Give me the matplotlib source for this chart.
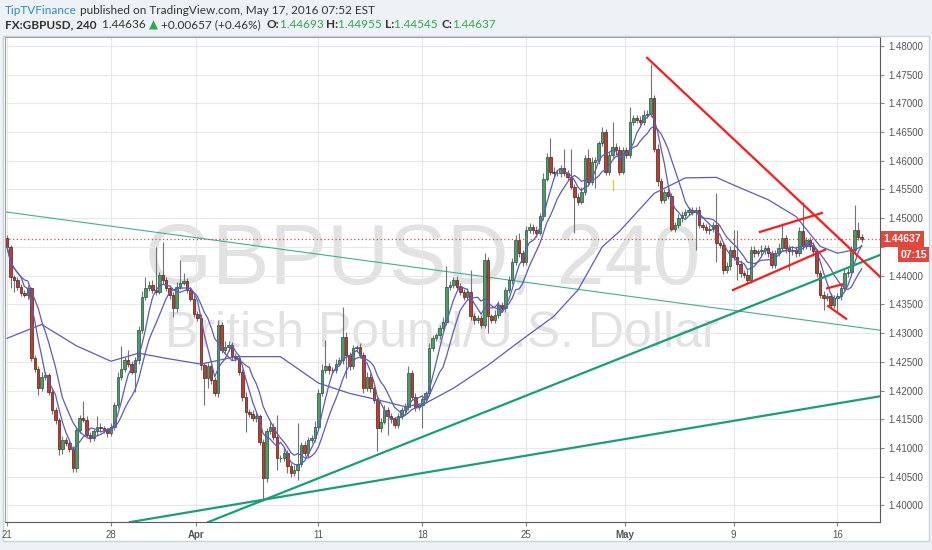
import numpy as np
import pandas as pd
import matplotlib
matplotlib.use("Agg")
import matplotlib.pyplot as plt
from matplotlib.patches import Rectangle
from matplotlib.transforms import blended_transform_factory

# GBPUSD 240 bars (one row = one trading day, 6 bars)
first_open = 1.4465
closes = [
    1.4450, 1.4398, 1.4392, 1.4381, 1.4369, 1.4366,
    1.4378, 1.4256, 1.4238, 1.4204, 1.4224, 1.4227,
    1.4198, 1.4166, 1.4149, 1.4099, 1.4114, 1.4108,
    1.4099, 1.4065, 1.4131, 1.4152, 1.4149, 1.4123,
    1.4117, 1.4129, 1.4137, 1.4134, 1.4131, 1.4126,
    1.4137, 1.4175, 1.4224, 1.4238, 1.4253, 1.4247,
    1.4233, 1.4253, 1.4305, 1.4363, 1.4378, 1.4384,
    1.4375, 1.4372, 1.4401, 1.4392, 1.4378, 1.4366,
    1.4343, 1.4381, 1.4387, 1.4390, 1.4375, 1.4360,
    1.4334, 1.4326, 1.4244, 1.4221, 1.4242, 1.4218,
    1.4195, 1.4314, 1.4271, 1.4276, 1.4279, 1.4260,
    1.4256, 1.4233, 1.4189, 1.4163, 1.4160, 1.4152,
    1.4155, 1.4111, 1.4047, 1.4129, 1.4137, 1.4120,
    1.4082, 1.4082, 1.4091, 1.4068, 1.4056, 1.4062,
    1.4073, 1.4105, 1.4091, 1.4114, 1.4117, 1.4137,
    1.4195, 1.4236, 1.4242, 1.4236, 1.4236, 1.4247,
    1.4253, 1.4294, 1.4262, 1.4242, 1.4274, 1.4276,
    1.4262, 1.4204, 1.4224, 1.4204, 1.4184, 1.4134,
    1.4146, 1.4166, 1.4155, 1.4150, 1.4140, 1.4155,
    1.4166, 1.4172, 1.4230, 1.4189, 1.4172, 1.4175,
    1.4186, 1.4195, 1.4274, 1.4291, 1.4296, 1.4308,
    1.4320, 1.4381, 1.4384, 1.4392, 1.4381, 1.4372,
    1.4363, 1.4372, 1.4329, 1.4323, 1.4326, 1.4314,
    1.4427, 1.4329, 1.4323, 1.4332, 1.4349, 1.4343,
    1.4375, 1.4392, 1.4424, 1.4462, 1.4439, 1.4424,
    1.4479, 1.4485, 1.4479, 1.4475, 1.4503, 1.4569,
    1.4607, 1.4581, 1.4578, 1.4578, 1.4587, 1.4578,
    1.4572, 1.4555, 1.4537, 1.4529, 1.4546, 1.4604,
    1.4563, 1.4598, 1.4601, 1.4630, 1.4650, 1.4581,
    1.4610, 1.4624, 1.4618, 1.4581, 1.4618, 1.4610,
    1.4668, 1.4674, 1.4671, 1.4668, 1.4680, 1.4682,
    1.4709, 1.4621, 1.4564, 1.4532, 1.4546, 1.4538,
    1.4482, 1.4488, 1.4500, 1.4506, 1.4511, 1.4514,
    1.4511, 1.4514, 1.4488, 1.4485, 1.4479, 1.4482,
    1.4488, 1.4456, 1.4454, 1.4410, 1.4416, 1.4445,
    1.4433, 1.4421, 1.4404, 1.4401, 1.4393, 1.4445,
    1.4439, 1.4442, 1.4445, 1.4448, 1.4439, 1.4419,
    1.4439, 1.4448, 1.4465, 1.4448, 1.4442, 1.4445,
    1.4439, 1.4477, 1.4451, 1.4462, 1.4451, 1.4442,
    1.4404, 1.4366, 1.4361, 1.4364, 1.4349, 1.4361,
    1.4364, 1.4378, 1.4404, 1.4407, 1.4445, 1.4479,
    1.4468, 1.44637,
]
# wick lengths above / below the body, in pips
up_pips = [
    6, 4, 3, 5, 4, 6,   5, 3, 6, 4, 8, 5,   4, 6, 5, 4, 7, 5,
    5, 4, 6, 5, 29, 6,  5, 4, 18, 6, 5, 4,  6, 5, 8, 40, 6, 18,
    5, 6, 8, 10, 20, 6, 8, 75, 6, 58, 5, 6, 5, 8, 40, 14, 6, 5,
    6, 5, 8, 4, 6, 5,   5, 8, 6, 10, 7, 5,  6, 5, 4, 8, 5, 6,
    6, 5, 4, 6, 8, 7,   38, 6, 10, 5, 6, 8, 70, 6, 8, 5, 6, 10,
    8, 10, 46, 6, 5, 8, 6, 52, 8, 5, 6, 4,  6, 5, 8, 6, 4, 5,
    6, 8, 5, 6, 4, 6,   5, 6, 12, 5, 6, 4,  6, 5, 8, 6, 5, 6,
    8, 35, 6, 5, 8, 6,  5, 6, 38, 6, 5, 6,  13, 6, 5, 8, 6, 5,
    6, 8, 6, 8, 12, 6,  8, 6, 5, 8, 6, 10,  6, 32, 8, 6, 5, 34,
    6, 48, 5, 6, 8, 6,  16, 8, 6, 5, 8, 6,  6, 44, 6, 8, 6, 5,
    26, 6, 5, 6, 8, 6,  60, 5, 8, 6, 5, 6,  6, 5, 8, 6, 5, 6,
    5, 6, 8, 6, 5, 6,   6, 55, 6, 5, 8, 6,  34, 46, 6, 5, 8, 6,
    6, 5, 8, 6, 5, 6,   6, 8, 26, 6, 5, 6,  6, 8, 52, 6, 5, 6,
    5, 6, 8, 6, 5, 6,   6, 5, 8, 6, 6, 44,  15, 5,
]
down_pips = [
    4, 20, 20, 6, 5, 4, 6, 5, 6, 11, 5, 6,  5, 6, 8, 11, 10, 5,
    6, 6, 6, 5, 4, 6,   6, 5, 6, 4, 5, 6,   5, 6, 5, 6, 5, 6,
    5, 35, 6, 5, 6, 5,  6, 5, 4, 6, 5, 6,   15, 6, 5, 4, 6, 5,
    6, 5, 8, 46, 17, 6, 5, 6, 5, 6, 8, 6,   5, 6, 8, 35, 6, 5,
    6, 5, 40, 6, 5, 6,  20, 6, 5, 12, 6, 5, 18, 6, 5, 6, 5, 6,
    6, 5, 6, 8, 5, 6,   5, 6, 40, 6, 5, 6,  6, 8, 5, 6, 5, 40,
    6, 5, 32, 6, 5, 6,  5, 6, 6, 5, 8, 6,   41, 6, 5, 6, 5, 6,
    5, 6, 6, 5, 6, 5,   6, 5, 6, 8, 5, 6,   6, 29, 6, 5, 6, 5,
    6, 5, 6, 5, 6, 8,   6, 5, 6, 8, 5, 6,   5, 6, 8, 5, 6, 5,
    6, 5, 63, 6, 5, 6,  6, 5, 45, 6, 5, 6,  6, 5, 8, 6, 5, 6,
    6, 5, 6, 5, 6, 5,   6, 5, 8, 6, 6, 5,   5, 6, 5, 6, 5, 6,
    6, 66, 5, 6, 5, 6,  6, 33, 6, 8, 5, 6,  6, 28, 6, 5, 6, 5,
    6, 5, 6, 8, 6, 5,   6, 5, 6, 8, 32, 6,  6, 5, 6, 5, 6, 8,
    6, 5, 21, 6, 5, 6,  24, 6, 5, 6, 5, 6,  6, 5,
]

# slow moving average at a few bars
slow_ma_bars = [0, 10, 20, 30, 38, 46, 56, 66, 79, 90, 99, 107, 115, 121, 129,
                139, 148, 158, 165, 172, 177, 187, 196, 205, 211, 220, 228,
                235, 240, 245, 247]
slow_ma_vals = [1.4291, 1.4315, 1.4278, 1.4251, 1.4265, 1.4256, 1.4246, 1.4259,
                1.4259, 1.4213, 1.4195, 1.4184, 1.4172, 1.4178, 1.4204, 1.4244,
                1.4285, 1.4329, 1.4375, 1.4450, 1.4477, 1.4543, 1.4570, 1.4571,
                1.4555, 1.4532, 1.4503, 1.4451, 1.4439, 1.4445, 1.4451]

# hand-drawn trend lines: (bar, price) end points
thin_line = [(-0.6, 1.4511), (252.3, 1.4305)]
green_lines = [[(58.1, 1.3971), (252.3, 1.4436)],
               [(35.5, 1.3971), (252.3, 1.4190)]]
red_lines = [[(185.0, 1.4779), (252.3, 1.4398)],
             [(217.6, 1.4476), (235.5, 1.4509)],
             [(209.8, 1.4375), (236.4, 1.4445)],
             [(237.0, 1.4378), (241.6, 1.4385)],
             [(237.3, 1.4347), (242.5, 1.4325)]]
marker_bar, marker_lo, marker_hi = 175, 1.4549, 1.4566

tick_bars = [0, 30, 54.6, 90, 120, 150, 178.6, 210, 240]
tick_labels = ["21", "28", "Apr", "11", "18", "25", "May", "9", "16"]
price_ticks = [1.40, 1.405, 1.41, 1.415, 1.42, 1.425, 1.43, 1.435, 1.44,
               1.445, 1.45, 1.455, 1.46, 1.465, 1.47, 1.475, 1.48]

closes = np.array(closes)
opens = np.concatenate([[first_open], closes[:-1]])
highs = np.maximum(opens, closes) + np.array(up_pips) / 10000
lows = np.minimum(opens, closes) - np.array(down_pips) / 10000
bars = np.arange(len(closes))
last = closes[-1]

fig = plt.figure(figsize=(9.32, 5.5), dpi=100, facecolor="#eef1f5")
panel = Rectangle((3 / 932, 1 - 541 / 550), 926 / 932, 505 / 550,
                  transform=fig.transFigure, fc="white", ec="#cfd3d6", lw=1,
                  zorder=-10)
fig.add_artist(panel)
ax = fig.add_axes([5 / 932, 1 - 522 / 550, 875 / 932, 485 / 550])
ax.set_facecolor("white")

# watermark
ax.text(0.16, 0.49, "GBPUSD, 240", transform=ax.transAxes, fontsize=62,
        family="Liberation Sans", color="#e2e2e2", zorder=0.5)
ax.text(0.183, 0.36, "British Pound/U.S. Dollar", transform=ax.transAxes,
        fontsize=36, family="Liberation Sans", color="#e2e2e2", zorder=0.5)

# candles
up = closes >= opens
ax.vlines(bars, lows, highs, color="#737375", lw=0.8, zorder=2)
body_h = np.abs(closes - opens)
body_h = np.maximum(body_h, 0.00004)
ax.bar(bars[up], body_h[up], bottom=opens[up], width=0.72,
       color="#4f9a6b", edgecolor="#225437", lw=0.5, zorder=2.2)
ax.bar(bars[~up], body_h[~up], bottom=closes[~up], width=0.72,
       color="#b5422f", edgecolor="#5b1a13", lw=0.5, zorder=2.2)

# moving averages
s = pd.Series(closes)
ax.plot(bars, s.rolling(5, min_periods=1).mean(), color="#5b5bc0", lw=0.9, zorder=3)
ax.plot(bars, s.rolling(10, min_periods=1).mean(), color="#5b5bc0", lw=0.9, zorder=3)
ax.plot(slow_ma_bars, slow_ma_vals, color="#5b5bc0", lw=0.9, zorder=3)

# trend lines
ax.plot(*zip(*thin_line), color="#3bb391", lw=0.8, zorder=1.5)
for ln in green_lines:
    ax.plot(*zip(*ln), color="#17a078", lw=1.6, zorder=4)
for ln in red_lines:
    ax.plot(*zip(*ln), color="#ff1a1a", lw=1.6, zorder=4)
ax.plot([marker_bar, marker_bar], [marker_lo, marker_hi], color="#e8c930", lw=1, zorder=4)

# last price
ax.axhline(last, color="#e0483e", ls=(0, (1, 2)), lw=0.9, zorder=3.5)
tr = blended_transform_factory(ax.transAxes, ax.transData)
ax.text(1.004, last, f"{last:.5f}", transform=tr, color="white", fontsize=7.5,
        fontweight="bold", family="Liberation Sans", va="center", ha="left",
        bbox=dict(boxstyle="square,pad=0.25", fc="#e0483e", ec="none"),
        zorder=10, clip_on=False)
ax.text(1.0535, last - 0.0027, "07:15", transform=tr, color="white", fontsize=7.5,
        fontweight="bold", family="Liberation Sans", va="center", ha="right",
        bbox=dict(boxstyle="square,pad=0.25", fc="#e0483e", ec="none"),
        zorder=10, clip_on=False)

# axes
ax.set_xlim(-0.6, 252.3)
ax.set_ylim(1.39712, 1.48153)
ax.yaxis.tick_right()
ax.set_yticks(price_ticks)
ax.set_yticklabels(["" if abs(p - 1.445) < 1e-9 else f"{p:.5f}" for p in price_ticks])
ax.set_xticks(tick_bars)
ax.set_xticklabels(tick_labels)
for lab in ax.get_xticklabels():
    if lab.get_text() in ("Apr", "May"):
        lab.set_fontweight("bold")
ax.tick_params(axis="both", colors="#888888", labelcolor="#555555", labelsize=7,
               length=3, width=0.8, direction="out")
ax.tick_params(axis="y", pad=3)
ax.tick_params(axis="x", pad=3)
for lab in ax.get_xticklabels() + ax.get_yticklabels():
    lab.set_family("Liberation Sans")
ax.grid(True, color="#e8e8e8", lw=0.8, zorder=0)
ax.set_axisbelow(True)
for side in ("top", "left"):
    ax.spines[side].set_color("#a0a0a0")
for side in ("right", "bottom"):
    ax.spines[side].set_color("#5a5a5a")

# header
renderer = fig.canvas.get_renderer()
hdr_font = ["Lato", "DejaVu Sans"]


def run(parts, x, y):
    for txt, color, weight in parts:
        t = fig.text(x, y, txt, color=color, fontweight=weight, fontsize=8.5,
                     family=hdr_font, va="center", ha="left")
        x += t.get_window_extent(renderer).width / fig.bbox.width


green = "#2eaa4a"
dark = "#333333"
run([("TipTVFinance", "#2b8cd1", "normal"),
     (" published on TradingView.com, May 17, 2016 07:52 EST", dark, "normal")],
    5 / 932, 1 - 10 / 550)
run([("FX:GBPUSD, 240", dark, "bold"), ("  1.44636 ", dark, "normal"),
     ("▲", green, "normal"), (" +0.00657 (+0.46%)  ", dark, "normal"),
     ("O:", dark, "bold"), ("1.44693 ", green, "normal"),
     ("H:", dark, "bold"), ("1.44955 ", green, "normal"),
     ("L:", dark, "bold"), ("1.44545 ", green, "normal"),
     ("C:", dark, "bold"), ("1.44637", green, "normal")],
    5 / 932, 1 - 25 / 550)

fig.savefig("out.png", dpi=100, facecolor=fig.get_facecolor())
